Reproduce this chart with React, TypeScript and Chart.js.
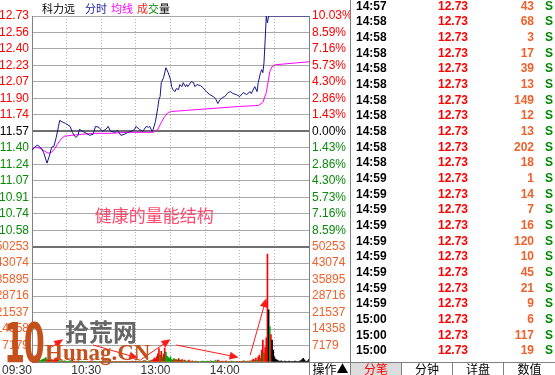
import React, { useEffect, useRef } from "react";
import { Chart, registerables } from "chart.js";

Chart.register(...registerables);

const FONT = 'Arial, "Liberation Sans", sans-serif';
const CJK = '"Noto Sans CJK SC", sans-serif';

// ---------- data ----------
const PREV_CLOSE = 11.57;
const LIMIT_PCT = 10.03;
const VOL_MAX = 50253;

const PRICE_MINUTES = [
  0, 3, 5, 8, 10, 13, 15, 17, 19, 21,
  23, 24, 27, 29, 33, 35, 37, 38, 40, 41,
  44, 47, 50, 53, 55, 58, 61, 64, 66, 68,
  72, 74, 77, 80, 83, 86, 89, 90, 93, 96,
  99, 101, 102, 104, 105, 107, 109, 110, 111, 112,
  114, 116, 118, 120, 121, 122, 124, 125, 127, 128,
  130, 131, 133, 134, 135, 138, 140, 141, 143, 146,
  148, 151, 154, 157, 159, 161, 163, 165, 167, 170,
  172, 174, 177, 180, 183, 186, 189, 190, 193, 195,
  196, 198, 199, 200, 201, 202, 203, 204, 205, 240,
];
const PRICE_VALUES = [
  11.38, 11.42, 11.43, 11.40, 11.36, 11.25, 11.32, 11.41, 11.42, 11.51,
  11.62, 11.68, 11.66, 11.65, 11.62, 11.56, 11.52, 11.51, 11.53, 11.59,
  11.57, 11.55, 11.53, 11.54, 11.62, 11.61, 11.57, 11.59, 11.62, 11.57,
  11.56, 11.58, 11.53, 11.54, 11.56, 11.57, 11.59, 11.62, 11.59, 11.57,
  11.62, 11.61, 11.62, 11.57, 11.59, 11.67, 11.81, 11.89, 11.92, 12.06,
  12.11, 12.21, 12.16, 12.09, 12.02, 11.99, 11.97, 12.00, 11.99, 12.04,
  12.02, 12.06, 12.02, 12.04, 12.02, 12.07, 12.06, 12.02, 12.04, 12.03,
  12.01, 11.97, 11.94, 11.92, 11.90, 11.85, 11.89, 11.91, 11.92, 11.96,
  11.97, 11.95, 11.94, 11.92, 11.96, 11.94, 11.97, 11.95, 12.02, 11.97,
  12.06, 12.16, 12.19, 12.16, 12.26, 12.49, 12.73, 12.66, 12.73, 12.73,
];

const AVG_MINUTES = [
  0, 3, 7, 11, 14, 17, 20, 22, 25, 28,
  34, 43, 54, 68, 83, 99, 105, 109, 112, 115,
  118, 121, 133, 156, 179, 196, 200, 203, 206, 208,
  211, 240,
];
const AVG_VALUES = [
  11.39, 11.41, 11.40, 11.37, 11.35, 11.36, 11.40, 11.44, 11.49, 11.52,
  11.53, 11.54, 11.55, 11.55, 11.56, 11.56, 11.56, 11.59, 11.66, 11.72,
  11.76, 11.77, 11.78, 11.80, 11.82, 11.83, 11.86, 11.96, 12.17, 12.22,
  12.24, 12.27,
];

// one bar per minute, 09:30 .. 15:00
const VOLUMES = [
  3200, 1400, 1100, 800, 900, 700, 1000, 500, 800, 1100,
  1300, 1500, 1900, 1100, 800, 900, 1300, 700, 600, 900,
  1500, 1800, 1100, 800, 500, 400, 600, 300, 500, 400,
  300, 300, 400, 500, 600, 800, 300, 400, 300, 300,
  500, 400, 300, 300, 300, 300, 300, 200, 300, 300,
  300, 400, 500, 300, 300, 300, 300, 200, 300, 300,
  300, 200, 300, 300, 300, 200, 300, 300, 300, 200,
  300, 200, 300, 300, 300, 200, 300, 300, 200, 300,
  200, 300, 300, 300, 200, 300, 300, 400, 300, 300,
  400, 300, 300, 500, 300, 300, 400, 600, 500, 400,
  300, 500, 400, 600, 800, 1100, 1800, 1400, 2400, 3600,
  5900, 2900, 4600, 2200, 3400, 6100, 4200, 2600, 1900, 1500,
  2300, 1100, 800, 1500, 1100, 1100, 800, 1500, 900, 700,
  1100, 500, 800, 600, 300, 500, 800, 400, 300, 500,
  300, 300, 400, 300, 300, 200, 300, 300, 400, 300,
  300, 300, 400, 300, 300, 500, 300, 300, 400, 600,
  400, 800, 500, 300, 300, 400, 300, 300, 500, 300,
  300, 300, 300, 400, 300, 300, 200, 300, 300, 200,
  300, 300, 300, 400, 500, 300, 300, 400, 300, 500,
  400, 900, 1300, 700, 1700, 700, 2300, 3000, 1700, 5200,
  9600, 4000, 6500, 10500, 47000, 22700, 15400, 12000, 9600, 5200,
  2300, 1300, 900, 600, 400, 300, 500, 300, 200, 400,
  300, 200, 300, 400, 200, 300, 200, 300, 400, 300,
  200, 300, 400, 600, 1100, 1600, 900, 400, 300, 500, 1200,
];
// r = up, g = down, k = unchanged
const VOL_DIRECTIONS = (
  "rgrrggrggg" + "gggrrrrgrr" + "rrrggrggrg" + "gggggrrrgr" + "rggrgggrrg" +
  "rrrggrggrg" + "grrgrrggrg" + "rgrgrgrgrr" + "grgrgrrgrr" + "rggrgrrgrg" +
  "rgrrgrrrrr" + "rgrgrrgggg" + "ggrgrgrrgr" + "rgrgrgrrgr" + "grgrgggrgg" +
  "gggrggrggg" + "grrgrrrgrr" + "grgrgggrgr" + "rgrrgrgrgr" + "grrgrgrrgr" +
  "rgrrrkgrkk" + "kkkkkkkkkk" + "kkkkkkkkkk" + "kkkkkkkkkkk"
).split("");

const X_TICK_MINUTES = [0, 30, 60, 90, 120, 150, 180, 210, 240];
const X_TICK_LABELS = ["09:30", "", "10:30", "", "13:00", "", "14:00", "", ""];
const PRICE_TICK_LABELS = [
  "12.73", "12.56", "12.40", "12.23", "12.07", "11.90", "11.74", "11.57",
  "11.40", "11.24", "11.07", "10.91", "10.74", "10.58", "",
];
const PCT_TICK_LABELS = [
  "10.03%", "8.59%", "7.16%", "5.73%", "4.30%", "2.86%", "1.43%", "0.00%",
  "1.43%", "2.86%", "4.30%", "5.73%", "7.16%", "8.59%", "",
];
const VOL_TICK_LABELS = ["50253", "43074", "35895", "28716", "21537", "14358", "7179", ""];

const TRADE_TIMES = [
  "14:57", "14:58", "14:58", "14:58", "14:58", "14:58", "14:58", "14:58",
  "14:58", "14:58", "14:58", "14:59", "14:59", "14:59", "14:59", "14:59",
  "14:59", "14:59", "14:59", "14:59", "15:00", "15:00", "15:00",
];
const TRADE_PRICES = [
  "12.73", "12.73", "12.73", "12.73", "12.73", "12.73", "12.73", "12.73",
  "12.73", "12.73", "12.73", "12.73", "12.73", "12.73", "12.73", "12.73",
  "12.73", "12.73", "12.73", "12.73", "12.73", "12.73", "12.73",
];
const TRADE_VOLUMES = [43, 68, 3, 17, 39, 13, 149, 12, 13, 202, 18, 1, 14, 7, 16, 120, 10, 45, 21, 9, 6, 117, 19];
const TRADE_SIDES = [
  "S", "S", "S", "S", "S", "S", "S", "S", "S", "S", "S", "S",
  "S", "S", "S", "S", "S", "S", "S", "S", "S", "S", "S",
];
const TABS = ["分笔", "分钟", "详盘", "数值"];

const ANNOTATION_TEXT = "健康的量能结构";
const ANNOTATION_MINUTE = 106;
const ANNOTATION_PRICE = 10.727;
// [fromMinute, fromVolume, toMinute, toVolume]
const ARROWS = [
  [13, 5200, 27, 9900],
  [53, 7400, 92, 1700],
  [94, 900, 120, 9900],
  [125, 7400, 179, 2000],
  [189, 3000, 203, 27800],
];

// ---------- styling ----------
const RED = "#ff0000";
const GREEN = "#0a8a0a";
const ORANGE = "#f0602a";
const GRID = "#a8a8a8";
const DARK = "#707070";
const CLEAR = "rgba(0,0,0,0)";
const BAR_COLORS: Record<string, string> = { r: "#ff0000", g: "#00a000", k: "#000000" };

function evenTicks(min: number, max: number, n: number) {
  const out: { value: number }[] = [];
  for (let i = 0; i < n; i++) out.push({ value: min + ((max - min) * i) / (n - 1) });
  return out;
}

const overlayPlugin = {
  id: "overlayNotes",
  afterDatasetsDraw(chart: any) {
    const { ctx, scales } = chart;
    const xs = scales.x;
    const yp = scales.yPrice;
    const yv = scales.yVol;
    ctx.save();
    ctx.font = `17px ${CJK}`;
    ctx.fillStyle = "#ff4a6e";
    ctx.textAlign = "center";
    ctx.textBaseline = "middle";
    ctx.fillText(ANNOTATION_TEXT, xs.getPixelForValue(ANNOTATION_MINUTE), yp.getPixelForValue(ANNOTATION_PRICE));
    ctx.strokeStyle = "#ff1a1a";
    ctx.fillStyle = "#ff1a1a";
    ctx.lineWidth = 1;
    for (const [m1, v1, m2, v2] of ARROWS) {
      const x1 = xs.getPixelForValue(m1);
      const y1 = yv.getPixelForValue(v1);
      const x2 = xs.getPixelForValue(m2);
      const y2 = yv.getPixelForValue(v2);
      const ang = Math.atan2(y2 - y1, x2 - x1);
      ctx.beginPath();
      ctx.moveTo(x1, y1);
      ctx.lineTo(x2 - Math.cos(ang) * 5, y2 - Math.sin(ang) * 5);
      ctx.stroke();
      const L = 9;
      const W = 4;
      ctx.beginPath();
      ctx.moveTo(x2, y2);
      ctx.lineTo(x2 - L * Math.cos(ang) + W * Math.sin(ang), y2 - L * Math.sin(ang) - W * Math.cos(ang));
      ctx.lineTo(x2 - L * Math.cos(ang) - W * Math.sin(ang), y2 - L * Math.sin(ang) + W * Math.cos(ang));
      ctx.closePath();
      ctx.fill();
    }
    ctx.restore();
  },
};

const tickFont = { family: FONT, size: 12 };

function buildConfig(): any {
  const priceMin = PREV_CLOSE * (1 - LIMIT_PCT / 100);
  const priceMax = PREV_CLOSE * (1 + LIMIT_PCT / 100);
  const nP = PRICE_TICK_LABELS.length;
  const nV = VOL_TICK_LABELS.length;
  const signColor = (i: number) => {
    const t = nP - 1 - i;
    return t < 7 ? RED : t === 7 ? "#000000" : GREEN;
  };
  return {
    type: "line",
    data: {
      datasets: [
        {
          label: "分时",
          type: "line",
          data: PRICE_MINUTES.map((m, i) => ({ x: m, y: PRICE_VALUES[i] })),
          yAxisID: "yPrice",
          borderColor: "#16168a",
          borderWidth: 1,
          pointRadius: 0,
          tension: 0,
        },
        {
          label: "均线",
          type: "line",
          data: AVG_MINUTES.map((m, i) => ({ x: m, y: AVG_VALUES[i] })),
          yAxisID: "yPrice",
          borderColor: "#ff00ff",
          borderWidth: 1,
          pointRadius: 0,
          tension: 0,
        },
        {
          label: "成交量",
          type: "bar",
          data: VOLUMES.map((v, i) => ({ x: i, y: v })),
          yAxisID: "yVol",
          backgroundColor: VOL_DIRECTIONS.map((d) => BAR_COLORS[d]),
          barThickness: 1,
          borderWidth: 0,
        },
      ],
    },
    options: {
      responsive: false,
      animation: false,
      events: [],
      layout: { autoPadding: false, padding: { top: 16, left: 0, right: 0, bottom: 0 } },
      plugins: { legend: { display: false }, tooltip: { enabled: false }, title: { display: false } },
      scales: {
        x: {
          type: "linear",
          min: 0,
          max: 240,
          offset: false,
          afterBuildTicks: (s: any) => {
            s.ticks = X_TICK_MINUTES.map((v) => ({ value: v }));
          },
          afterFit: (s: any) => {
            s.height = 13;
          },
          grid: {
            offset: false,
            drawTicks: false,
            color: (c: any) => (c.index === 0 || c.index === X_TICK_MINUTES.length - 1 ? CLEAR : "#b4b4b4"),
            lineWidth: 1,
          },
          border: { display: true, color: "#808080", width: 1, dash: [1, 2] },
          ticks: {
            autoSkip: false,
            maxRotation: 0,
            align: "end",
            padding: 1,
            color: "#333333",
            font: tickFont,
            callback: (_v: any, i: number) => X_TICK_LABELS[i],
          },
        },
        yVol: {
          type: "linear",
          position: "left",
          stack: "L",
          stackWeight: 1,
          min: 0,
          max: VOL_MAX,
          afterBuildTicks: (s: any) => {
            s.ticks = evenTicks(s.min, s.max, nV);
          },
          afterFit: (s: any) => {
            s.width = 32;
          },
          grid: {
            drawTicks: false,
            color: (c: any) => (c.index === 0 ? CLEAR : c.index === nV - 1 ? DARK : GRID),
            lineWidth: (c: any) => (c.index === nV - 1 ? 2 : 1),
          },
          border: { display: true, color: "#808080" },
          ticks: {
            autoSkip: false,
            padding: 3,
            font: tickFont,
            color: ORANGE,
            callback: (_v: any, i: number) => VOL_TICK_LABELS[nV - 1 - i],
          },
        },
        yPrice: {
          type: "linear",
          position: "left",
          stack: "L",
          stackWeight: 2,
          min: priceMin,
          max: priceMax,
          afterBuildTicks: (s: any) => {
            s.ticks = evenTicks(s.min, s.max, nP);
          },
          afterFit: (s: any) => {
            s.width = 32;
          },
          grid: {
            drawTicks: false,
            color: (c: any) => {
              const t = nP - 1 - c.index;
              if (t === nP - 1) return CLEAR;
              return t === 7 ? DARK : GRID;
            },
            lineWidth: (c: any) => (nP - 1 - c.index === 7 ? 2 : 1),
          },
          border: { display: true, color: "#808080" },
          ticks: {
            autoSkip: false,
            padding: 3,
            font: tickFont,
            color: (c: any) => signColor(c.index),
            callback: (_v: any, i: number) => PRICE_TICK_LABELS[nP - 1 - i],
          },
        },
        yPct: {
          type: "linear",
          position: "right",
          stack: "R",
          stackWeight: 2,
          min: -LIMIT_PCT,
          max: LIMIT_PCT,
          afterBuildTicks: (s: any) => {
            s.ticks = evenTicks(s.min, s.max, nP);
          },
          afterFit: (s: any) => {
            s.width = 41;
          },
          grid: { display: false, drawTicks: false },
          border: { display: true, color: "#808080" },
          ticks: {
            autoSkip: false,
            padding: 3,
            font: tickFont,
            color: (c: any) => signColor(c.index),
            callback: (_v: any, i: number) => PCT_TICK_LABELS[nP - 1 - i],
          },
        },
        yVolR: {
          type: "linear",
          position: "right",
          stack: "R",
          stackWeight: 1,
          min: 0,
          max: VOL_MAX,
          afterBuildTicks: (s: any) => {
            s.ticks = evenTicks(s.min, s.max, nV);
          },
          afterFit: (s: any) => {
            s.width = 41;
          },
          grid: { display: false, drawTicks: false },
          border: { display: true, color: "#808080" },
          ticks: {
            autoSkip: false,
            padding: 3,
            font: tickFont,
            color: ORANGE,
            callback: (_v: any, i: number) => VOL_TICK_LABELS[nV - 1 - i],
          },
        },
      },
    },
    plugins: [overlayPlugin],
  };
}

const ROW_H = 15.66;

export default function App() {
  const ref = useRef<HTMLCanvasElement>(null);
  useEffect(() => {
    if (!ref.current) return;
    const chart = new Chart(ref.current, buildConfig());
    return () => chart.destroy();
  }, []);

  const abs = (s: any) => ({ position: "absolute" as const, ...s });

  return (
    <div style={{ position: "fixed", left: 0, top: 0, width: 555, height: 375, background: "#fff", overflow: "hidden" }}>
      <canvas ref={ref} width={350} height={375} style={{ position: "absolute", left: 0, top: 0, width: 350, height: 375 }} />

      {/* header */}
      <div style={abs({ left: 42, top: 0, height: 16, lineHeight: "16px", fontFamily: CJK, fontSize: 11, whiteSpace: "nowrap" })}>
        <span style={{ color: "#000" }}>科力远</span>
        <span style={{ color: "#1a1aa0", marginLeft: 10 }}>分时</span>
        <span style={{ color: "#ff00ff", marginLeft: 4 }}>均线</span>
        <span style={{ color: "#ff2020", marginLeft: 4 }}>成</span>
        <span style={{ color: "#0a8a0a" }}>交</span>
        <span style={{ color: "#000" }}>量</span>
      </div>

      {/* watermark */}
      <div style={abs({ left: 4, top: 315, fontFamily: '"DejaVu Sans Condensed", "DejaVu Sans", sans-serif', fontWeight: 700, fontSize: 56, lineHeight: "56px", color: "#c4501c", transform: "scaleX(0.6)", transformOrigin: "left top", letterSpacing: -2 })}>10</div>
      <div style={abs({ left: 65, top: 316, fontFamily: CJK, fontSize: 24, lineHeight: "30px", color: "#666666", fontWeight: 700 })}>拾荒网</div>
      <div style={abs({ left: 45, top: 340, fontFamily: '"Liberation Serif", serif', fontWeight: 700, fontSize: 23, lineHeight: "26px", color: "#c4501c" })}>Hunag.CN</div>

      {/* operation box */}
      <div style={abs({ left: 309, top: 362, width: 42, height: 13, boxSizing: "border-box", borderTop: "1px solid #808080", borderLeft: "1px solid #808080", fontFamily: CJK, fontSize: 12, lineHeight: "12px", textAlign: "center", color: "#000" })}>操作▲</div>

      {/* trade list */}
      <div style={abs({ left: 350, top: 0, width: 205, height: 375, borderLeft: "1px solid #808080", boxSizing: "border-box" })}>
        {TRADE_TIMES.map((t, i) => (
          <div key={i} style={abs({ left: 0, top: -1.3 + i * ROW_H, width: 204, height: ROW_H, lineHeight: `${ROW_H}px`, fontFamily: FONT, fontWeight: 700, fontSize: 12 })}>
            <span style={abs({ left: 5, top: 0, color: "#000" })}>{t}</span>
            <span style={abs({ right: 204 - 117, top: 0, color: RED })}>{TRADE_PRICES[i]}</span>
            <span style={abs({ right: 204 - 183, top: 0, color: ORANGE })}>{TRADE_VOLUMES[i]}</span>
            <span style={abs({ left: 194, top: 0, color: "#008800" })}>{TRADE_SIDES[i]}</span>
          </div>
        ))}
        <div style={abs({ left: 0, top: 362, width: 204, height: 13, borderTop: "1px solid #808080", boxSizing: "border-box", display: "flex" })}>
          {TABS.map((tab, i) => (
            <div key={tab} style={{ width: 51, height: 12, lineHeight: "12px", textAlign: "center", fontFamily: CJK, fontSize: 12, color: i === 0 ? RED : "#000", background: i === 0 ? "#dcdcdc" : "#fff", borderRight: i < 3 ? "1px solid #808080" : "none", boxSizing: "border-box" }}>{tab}</div>
          ))}
        </div>
      </div>
    </div>
  );
}
